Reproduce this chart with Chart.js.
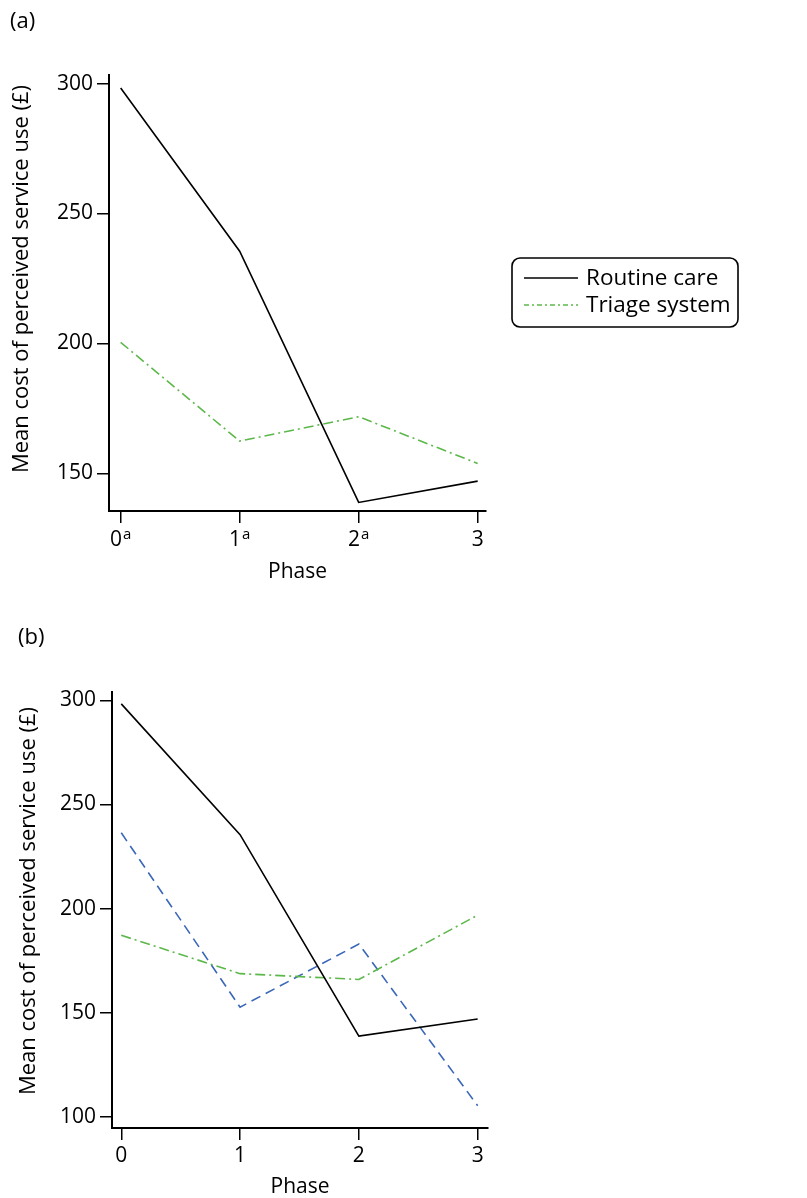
<!DOCTYPE html>
<html>
<head>
<meta charset="utf-8">
<script src="https://cdn.jsdelivr.net/npm/chart.js@4"></script>
<style>
  html, body { margin: 0; padding: 0; background: #fff; overflow: hidden; width: 807px; height: 1198px; }
  canvas { position: absolute; left: 0; }
  #costA { top: 0; }
  #costB { top: 600px; }
</style>
</head>
<body>
<canvas id="costA" width="807" height="600"></canvas>
<canvas id="costB" width="807" height="600"></canvas>
<script>
// Phases and tick labels
const phases = [0, 1, 2, 3];
const phaseLabels = ['0', '1', '2', '3'];
const phaseNotesA = ['a', 'a', 'a', ''];   // superscript markers on panel (a)
const costTicksA = [150, 200, 250, 300];
const costTicksB = [100, 150, 200, 250, 300];

// Mean cost of perceived service use (£) per phase
const routineCare    = [298.3, 235.5, 138.8, 147.0];
const triageSystem   = [200.4, 162.4, 171.8, 153.8];
const triageLocality = [187.2, 168.8, 166.0, 196.9];
const triageWard     = [236.4, 152.7, 183.0, 105.4];

const FONT_FAMILY = '"Open Sans", "DejaVu Sans", sans-serif';
const BLACK = '#000000';
const GREEN = '#5cb84a';
const BLUE = '#3a67b8';
const Y_TITLE = 'Mean cost of perceived service use (£)';

function points(values) {
  return phases.map((p, i) => ({ x: p, y: values[i] }));
}

// Boxed legend with rounded corners, drawn from the datasets' own styles
const boxLegend = {
  id: 'boxLegend',
  afterDraw(chart, args, o) {
    const ctx = chart.ctx;
    ctx.save();
    ctx.setLineDash([]);
    ctx.lineWidth = 1.6;
    ctx.strokeStyle = BLACK;
    ctx.beginPath();
    ctx.roundRect(o.x, o.y, o.w, o.h, 8);
    ctx.stroke();
    ctx.font = o.fontSize + 'px ' + FONT_FAMILY;
    ctx.textBaseline = 'middle';
    ctx.textAlign = 'left';
    chart.data.datasets.forEach((ds, i) => {
      const cy = o.firstRow + i * o.rowGap;
      ctx.strokeStyle = ds.borderColor;
      ctx.lineWidth = ds.borderWidth;
      ctx.setLineDash(o.dashes[i]);
      ctx.beginPath();
      ctx.moveTo(o.sampleX0, cy);
      ctx.lineTo(o.sampleX1, cy);
      ctx.stroke();
      ctx.setLineDash([]);
      ctx.fillStyle = BLACK;
      ctx.fillText(ds.label, o.textX, cy + 1);
    });
    ctx.restore();
  }
};

// Panel letter and rotated y-axis title
const panelText = {
  id: 'panelText',
  afterDraw(chart, args, o) {
    const ctx = chart.ctx;
    ctx.save();
    ctx.fillStyle = BLACK;
    ctx.font = o.fontSize + 'px ' + FONT_FAMILY;
    ctx.textBaseline = 'middle';
    ctx.textAlign = 'left';
    ctx.fillText(o.panel, o.panelX, o.panelY);
    ctx.translate(o.titleX, o.titleY);
    ctx.rotate(-Math.PI / 2);
    ctx.textAlign = 'center';
    ctx.fillText(o.yTitle, 0, 0);
    ctx.restore();
  }
};

// Phase labels with a raised note letter, placed at the x scale's tick pixels
const noteTicks = {
  id: 'noteTicks',
  afterDraw(chart, args, o) {
    if (!o.notes) return;
    const ctx = chart.ctx;
    const xs = chart.scales.x;
    const mainFont = o.size + 'px ' + FONT_FAMILY;
    const supFont = o.supSize + 'px ' + FONT_FAMILY;
    ctx.save();
    ctx.fillStyle = BLACK;
    ctx.textBaseline = 'alphabetic';
    ctx.textAlign = 'left';
    phases.forEach((p, i) => {
      const px = xs.getPixelForValue(p);
      ctx.font = mainFont;
      const w1 = ctx.measureText(o.labels[i]).width;
      ctx.font = supFont;
      const w2 = o.notes[i] ? ctx.measureText(o.notes[i]).width + 1 : 0;
      const x0 = px - (w1 + w2) / 2;
      ctx.font = mainFont;
      ctx.fillText(o.labels[i], x0, o.baseline);
      if (o.notes[i]) {
        ctx.font = supFont;
        ctx.fillText(o.notes[i], x0 + w1 + 1, o.supBaseline);
      }
    });
    ctx.restore();
  }
};

function makeChart(id, cfg) {
  const tickFont = { family: FONT_FAMILY, size: 21 };
  const titleFont = { family: FONT_FAMILY, size: 21 };
  return new Chart(document.getElementById(id), {
    type: 'line',
    data: { datasets: cfg.datasets },
    plugins: [boxLegend, panelText, noteTicks],
    options: {
      responsive: false,
      devicePixelRatio: 1,
      animation: false,
      events: [],
      layout: { padding: cfg.padding },
      elements: { point: { radius: 0 }, line: { tension: 0 } },
      scales: {
        x: {
          type: 'linear',
          min: cfg.xMin,
          max: cfg.xMax,
          afterBuildTicks: s => { s.ticks = phases.map(v => ({ value: v })); },
          afterFit: s => { s.height = cfg.xHeight; },
          ticks: {
            display: !cfg.notes,
            callback: (v, i) => phaseLabels[i],
            font: tickFont, color: BLACK, padding: 3, maxRotation: 0, autoSkip: false
          },
          grid: { drawOnChartArea: false, drawTicks: true, tickLength: 12, color: BLACK, lineWidth: 1.5 },
          border: { display: true, color: BLACK, width: 2 },
          title: { display: true, text: 'Phase', font: titleFont, color: BLACK, padding: { top: 0, bottom: cfg.xTitlePad } }
        },
        y: {
          type: 'linear',
          min: cfg.yMin,
          max: cfg.yMax,
          afterBuildTicks: s => { s.ticks = cfg.yTicks.map(v => ({ value: v })); },
          afterFit: s => { s.width = cfg.yWidth; },
          ticks: { font: tickFont, color: BLACK, padding: 4 },
          grid: { drawOnChartArea: false, drawTicks: true, tickLength: 12, color: BLACK, lineWidth: 1.5 },
          border: { display: true, color: BLACK, width: 2 }
        }
      },
      plugins: {
        legend: { display: false },
        tooltip: { enabled: false },
        boxLegend: cfg.legend,
        panelText: cfg.text,
        noteTicks: cfg.notes || {}
      }
    }
  });
}

makeChart('costA', {
  datasets: [
    { label: 'Routine care', data: points(routineCare), borderColor: BLACK, borderWidth: 1.6 },
    { label: 'Triage system', data: points(triageSystem), borderColor: GREEN, borderWidth: 1.6, borderDash: [10, 4, 2, 4] }
  ],
  padding: { left: 0, top: 75, right: 321, bottom: 0 },
  xMin: -0.098, xMax: 3.07, yMin: 135.5, yMax: 303.3,
  yTicks: costTicksA,
  yWidth: 109, xHeight: 89, xTitlePad: 15,
  notes: { labels: phaseLabels, notes: phaseNotesA, size: 21, supSize: 15, baseline: 546, supBaseline: 538.5 },
  legend: {
    x: 512, y: 258, w: 226, h: 69, firstRow: 278, rowGap: 27,
    sampleX0: 524, sampleX1: 578, textX: 586, fontSize: 22.5,
    dashes: [[], [5, 3, 2, 3]]
  },
  text: { panel: '(a)', panelX: 10, panelY: 22, titleX: 22, titleY: 279, yTitle: Y_TITLE, fontSize: 22 }
});

makeChart('costB', {
  datasets: [
    { label: 'Routine care', data: points(routineCare), borderColor: BLACK, borderWidth: 1.6 },
    { label: 'Triage locality wards', data: points(triageLocality), borderColor: GREEN, borderWidth: 1.6, borderDash: [10, 4, 2, 4] },
    { label: 'Triage ward', data: points(triageWard), borderColor: BLUE, borderWidth: 1.6, borderDash: [10, 6] }
  ],
  padding: { left: 0, top: 92, right: 319, bottom: 0 },
  xMin: -0.078, xMax: 3.087, yMin: 94.7, yMax: 304,
  yTicks: costTicksB,
  yWidth: 112, xHeight: 72, xTitlePad: 0,
  legend: {
    x: 515, y: 851, w: 291, h: 97, firstRow: 871, rowGap: 26,
    sampleX0: 527, sampleX1: 580, textX: 588, fontSize: 22.5,
    dashes: [[], [5, 3, 2, 3], [8, 5]]
  },
  text: { panel: '(b)', panelX: 18, panelY: 38, titleX: 29, titleY: 301, yTitle: Y_TITLE, fontSize: 22 }
});
</script>
</body>
</html>
